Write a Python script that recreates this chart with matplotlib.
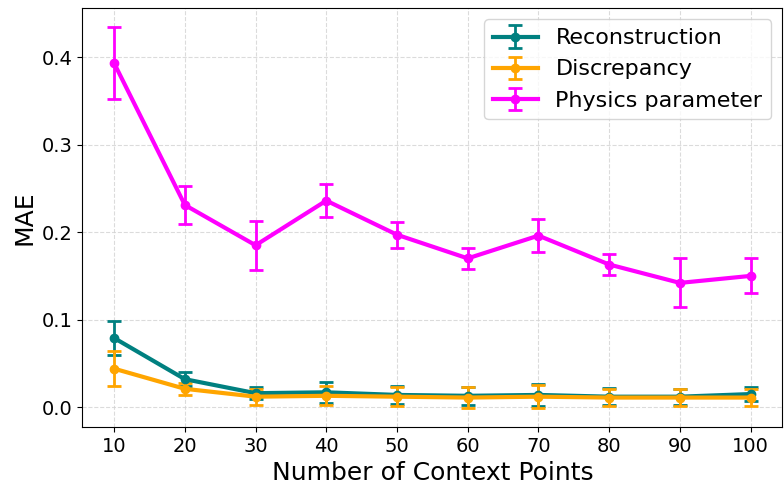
import matplotlib
matplotlib.use("Agg")
import matplotlib.pyplot as plt

context_points = [10, 20, 30, 40, 50, 60, 70, 80, 90, 100]

recon_mae = [0.079, 0.032, 0.016, 0.017, 0.014, 0.013, 0.014, 0.012, 0.012, 0.015]
recon_err = [0.019, 0.008, 0.007, 0.012, 0.010, 0.010, 0.013, 0.010, 0.009, 0.008]

disc_mae = [0.044, 0.021, 0.012, 0.013, 0.012, 0.011, 0.012, 0.011, 0.011, 0.011]
disc_err = [0.020, 0.007, 0.009, 0.011, 0.011, 0.012, 0.013, 0.010, 0.010, 0.010]

phys_mae = [0.393, 0.231, 0.185, 0.236, 0.197, 0.170, 0.196, 0.163, 0.142, 0.150]
phys_err = [0.041, 0.022, 0.028, 0.019, 0.015, 0.012, 0.019, 0.012, 0.028, 0.020]

fig, ax = plt.subplots(figsize=(7.84, 4.87), dpi=100)

ax.errorbar(context_points, recon_mae, yerr=recon_err, color="teal", marker="o",
            markersize=6, linewidth=3, capsize=5, elinewidth=2, capthick=2,
            label="Reconstruction")
ax.errorbar(context_points, disc_mae, yerr=disc_err, color="orange", marker="o",
            markersize=6, linewidth=3, capsize=5, elinewidth=2, capthick=2,
            label="Discrepancy")
ax.errorbar(context_points, phys_mae, yerr=phys_err, color="magenta", marker="o",
            markersize=6, linewidth=3, capsize=5, elinewidth=2, capthick=2,
            label="Physics parameter")

ax.set_xticks(context_points)
ax.set_yticks([0.0, 0.1, 0.2, 0.3, 0.4])
ax.tick_params(labelsize=14)
ax.set_xlabel("Number of Context Points", fontsize=18)
ax.set_ylabel("MAE", fontsize=18)
ax.grid(True, linestyle="--", color="lightgray", alpha=0.8)
ax.legend(fontsize=16, loc="upper right")

plt.subplots_adjust(left=0.105, right=0.998, top=0.983, bottom=0.123)
plt.savefig("out.png")
